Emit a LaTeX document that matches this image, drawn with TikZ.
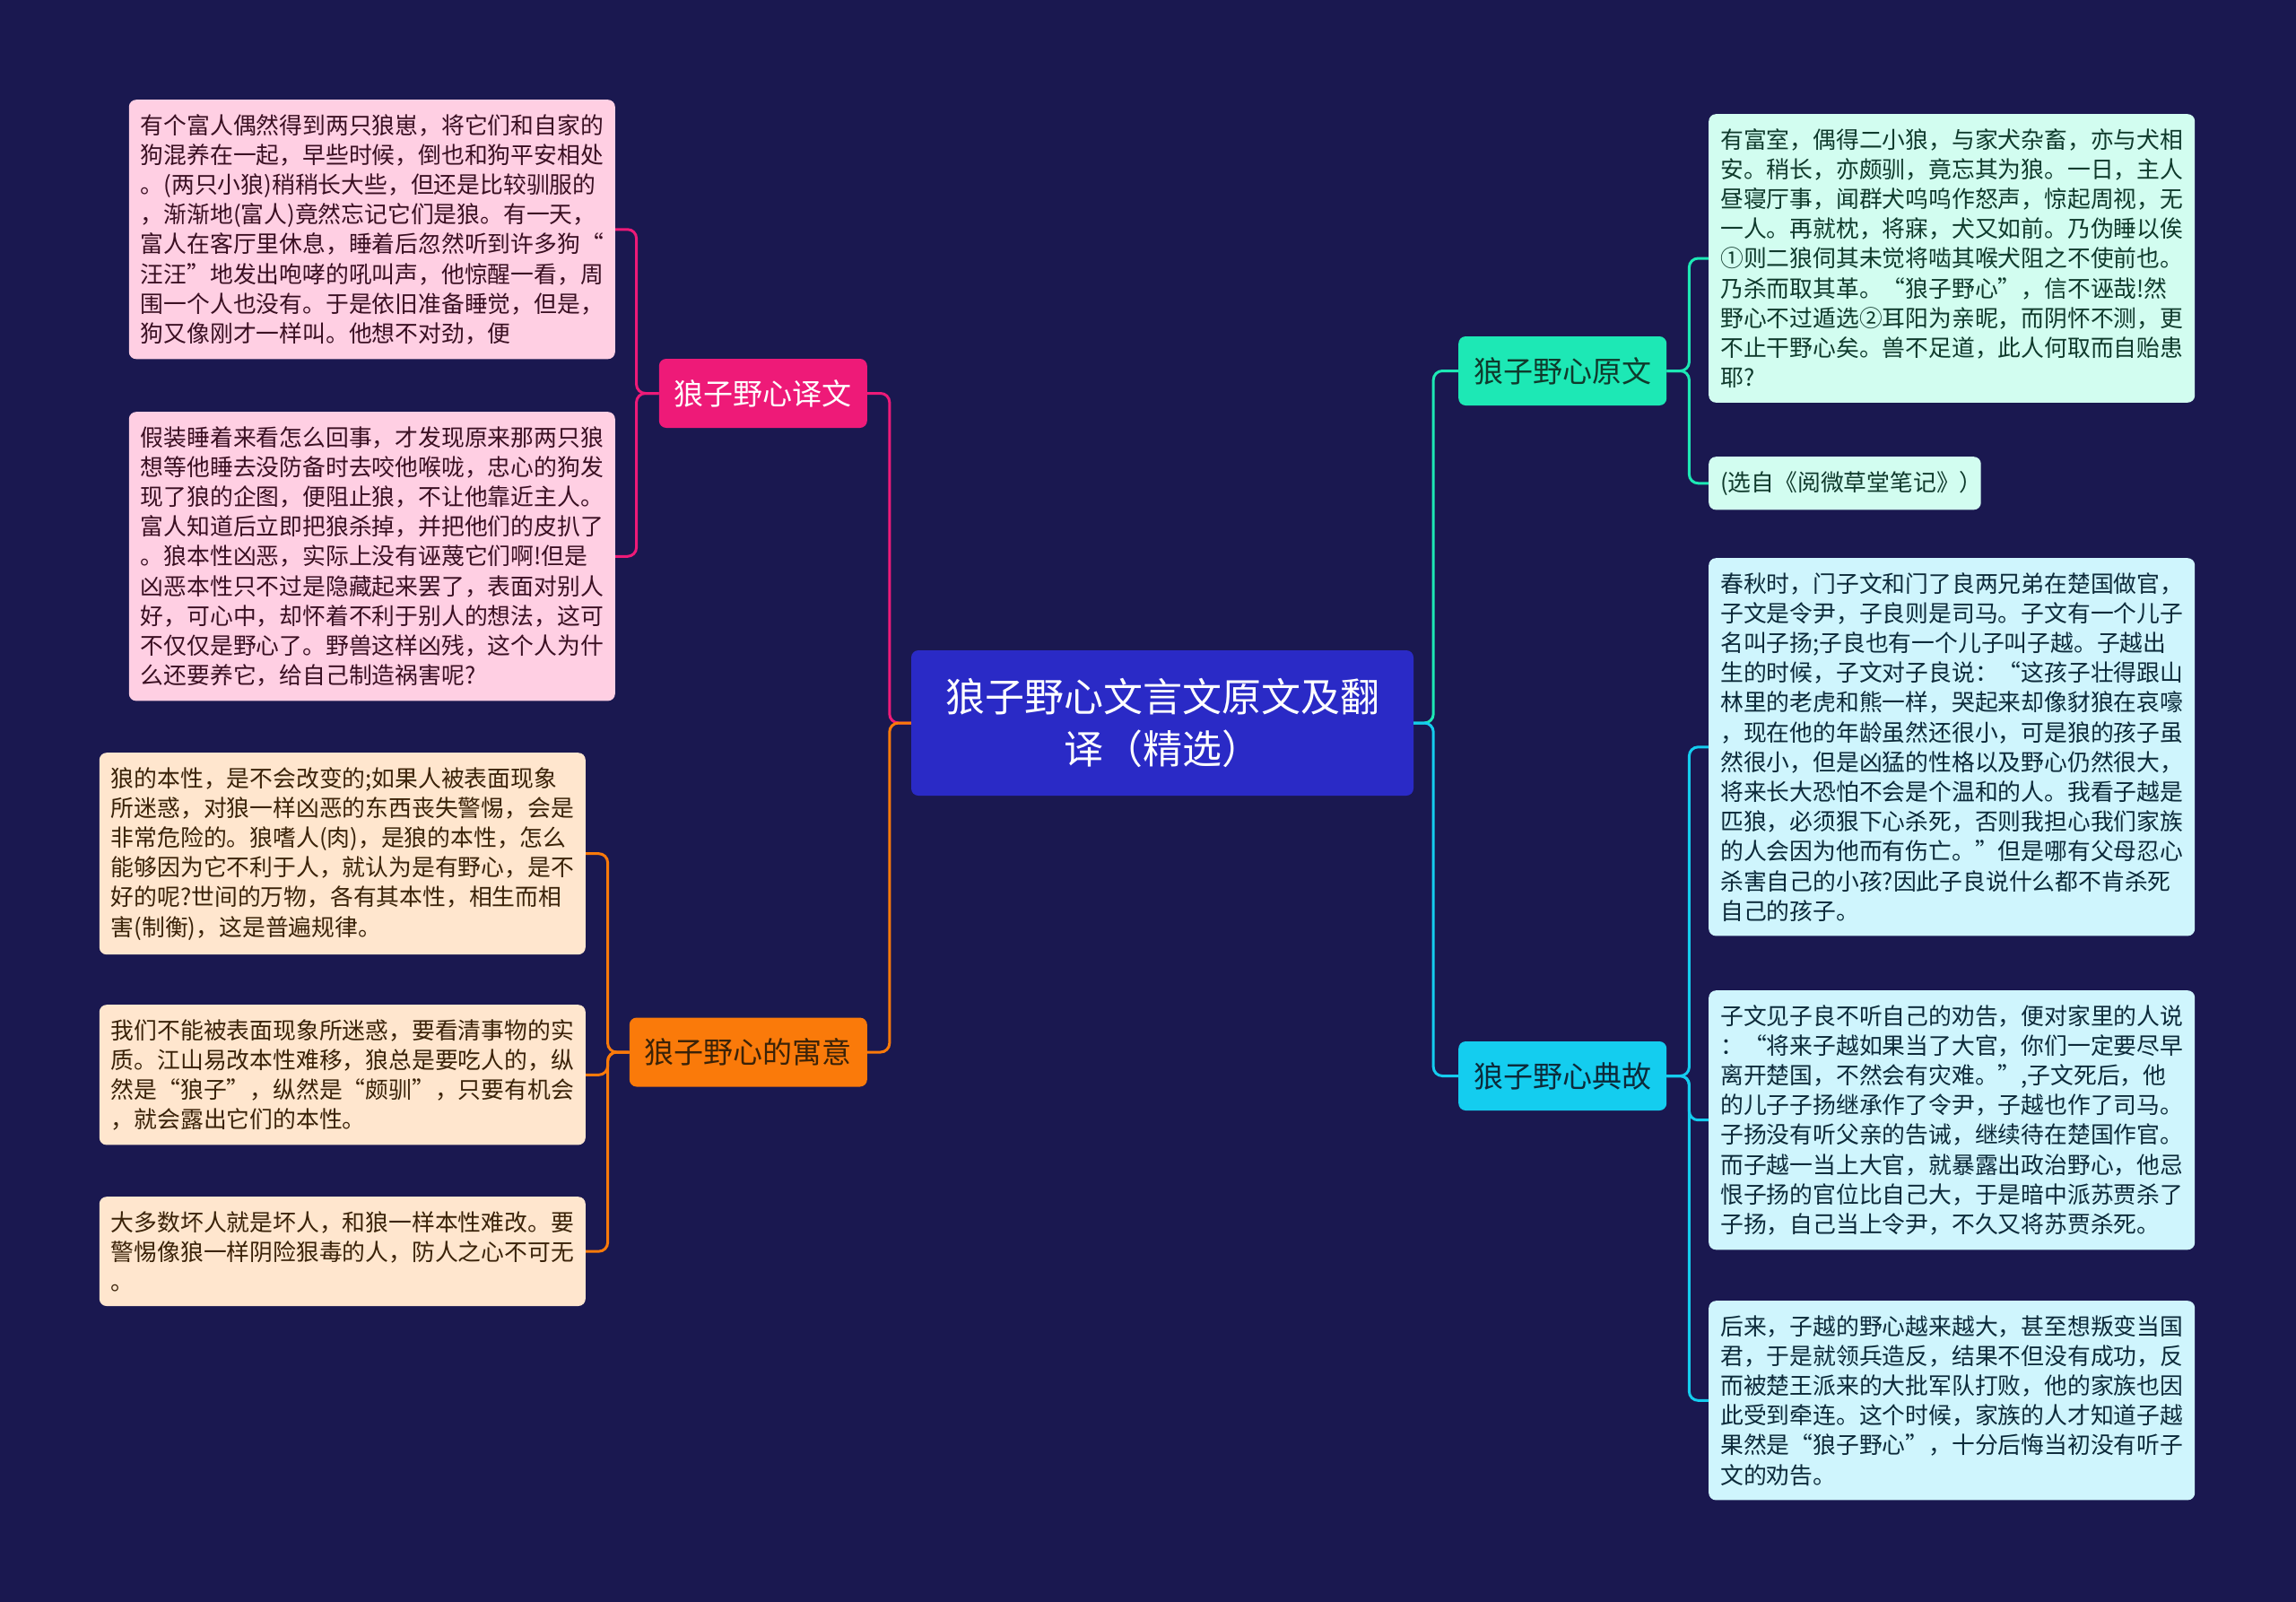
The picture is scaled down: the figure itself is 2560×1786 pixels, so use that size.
\documentclass[tikz,border=0pt]{standalone}
\usepackage{fontspec}
\setmainfont{Noto Sans CJK SC}
\usepackage{xcolor}
\definecolor{bgnavy}{HTML}{1A1850}
\definecolor{rootblue}{HTML}{2A2AC6}
\definecolor{pinkmain}{HTML}{EE1A78}
\definecolor{orangemain}{HTML}{FA7A0A}
\definecolor{tealmain}{HTML}{1DE8B5}
\definecolor{cyanmain}{HTML}{14CDEF}
\definecolor{pinkleaf}{HTML}{FFCFE3}
\definecolor{orangeleaf}{HTML}{FFE6CE}
\definecolor{tealleaf}{HTML}{D2FDF0}
\definecolor{cyanleaf}{HTML}{CFF5FD}
\definecolor{pinkink}{HTML}{3A0F22}
\definecolor{orangeink}{HTML}{3A2208}
\definecolor{tealink}{HTML}{0F3A2C}
\definecolor{cyanink}{HTML}{0C2A3A}

\begin{document}
\begin{tikzpicture}[x=1pt,y=-1pt,
  box/.style={rounded corners=8pt,inner sep=0pt,align=center},
  branch/.style={box,minimum height=77pt,inner xsep=17pt,font=\fontsize{33}{40}\selectfont},
  leaf/.style={rounded corners=8pt,align=left,inner xsep=13pt,inner ysep=16pt,font=\fontsize{25.8}{33.2}\selectfont},
  wideleaf/.style={leaf,text width=516pt},
  link/.style={line width=3pt,rounded corners=10pt}]
\fill[bgnavy] (0,0) rectangle (2560,1786);
\useasboundingbox (0,0) rectangle (2560,1786);

\node (root) [box,fill=rootblue,text=white,minimum width=560pt,minimum height=162pt,
  font=\fontsize{44}{58.8}\selectfont] at (1296,806) {狼子野心文言文原文及翻\\译（精选）};

\node (yiwen) [branch,fill=pinkmain,text=white,anchor=east] at (967,438.5) {狼子野心译文};
\node (yuyi) [branch,fill=orangemain,text=orangeink,anchor=east] at (967,1173) {狼子野心的寓意};
\node (yuanwen) [branch,fill=tealmain,text=tealink,anchor=west] at (1626,413.5) {狼子野心原文};
\node (diangu) [branch,fill=cyanmain,text=cyanink,anchor=west] at (1626,1199.5) {狼子野心典故};

\node (yw1) [wideleaf,fill=pinkleaf,text=pinkink,anchor=north east] at (686,111) {有个富人偶然得到两只狼崽，将它们和自家的\\
狗混养在一起，早些时候，倒也和狗平安相处\\
。(两只小狼)稍稍长大些，但还是比较驯服的\\
，渐渐地(富人)竟然忘记它们是狼。有一天，\\
富人在客厅里休息，睡着后忽然听到许多狗“\\
汪汪”地发出咆哮的吼叫声，他惊醒一看，周\\
围一个人也没有。于是依旧准备睡觉，但是，\\
狗又像刚才一样叫。他想不对劲，便};
\node (yw2) [wideleaf,fill=pinkleaf,text=pinkink,anchor=north east] at (686,459) {假装睡着来看怎么回事，才发现原来那两只狼\\
想等他睡去没防备时去咬他喉咙，忠心的狗发\\
现了狼的企图，便阻止狼，不让他靠近主人。\\
富人知道后立即把狼杀掉，并把他们的皮扒了\\
。狼本性凶恶，实际上没有诬蔑它们啊!但是\\
凶恶本性只不过是隐藏起来罢了，表面对别人\\
好，可心中，却怀着不利于别人的想法，这可\\
不仅仅是野心了。野兽这样凶残，这个人为什\\
么还要养它，给自己制造祸害呢?};

\node (yy1) [wideleaf,fill=orangeleaf,text=orangeink,anchor=north east] at (653,839) {狼的本性，是不会改变的;如果人被表面现象\\
所迷惑，对狼一样凶恶的东西丧失警惕，会是\\
非常危险的。狼嗜人(肉)，是狼的本性，怎么\\
能够因为它不利于人，就认为是有野心，是不\\
好的呢?世间的万物，各有其本性，相生而相\\
害(制衡)，这是普遍规律。};
\node (yy2) [wideleaf,fill=orangeleaf,text=orangeink,anchor=north east] at (653,1120) {我们不能被表面现象所迷惑，要看清事物的实\\
质。江山易改本性难移，狼总是要吃人的，纵\\
然是“狼子”，纵然是“颇驯”，只要有机会\\
，就会露出它们的本性。};
\node (yy3) [wideleaf,fill=orangeleaf,text=orangeink,anchor=north east] at (653,1334) {大多数坏人就是坏人，和狼一样本性难改。要\\
警惕像狼一样阴险狠毒的人，防人之心不可无\\
。};

\node (yl1) [wideleaf,fill=tealleaf,text=tealink,anchor=north west] at (1905,127) {有富室，偶得二小狼，与家犬杂畜，亦与犬相\\
安。稍长，亦颇驯，竟忘其为狼。一日，主人\\
昼寝厅事，闻群犬呜呜作怒声，惊起周视，无\\
一人。再就枕，将寐，犬又如前。乃伪睡以俟\\
①则二狼伺其未觉将啮其喉犬阻之不使前也。\\
乃杀而取其革。“狼子野心”，信不诬哉!然\\
野心不过遁选②耳阳为亲昵，而阴怀不测，更\\
不止干野心矣。兽不足道，此人何取而自贻患\\
耶?};
\node (yl2) [leaf,fill=tealleaf,text=tealink,anchor=north west] at (1905,509) {(选自《阅微草堂笔记》）\kern-15pt};

\node (dg1) [wideleaf,fill=cyanleaf,text=cyanink,anchor=north west] at (1905,622) {春秋时，门子文和门了良两兄弟在楚国做官，\\
子文是令尹，子良则是司马。子文有一个儿子\\
名叫子扬;子良也有一个儿子叫子越。子越出\\
生的时候，子文对子良说：“这孩子壮得跟山\\
林里的老虎和熊一样，哭起来却像豺狼在哀嚎\\
，现在他的年龄虽然还很小，可是狼的孩子虽\\
然很小，但是凶猛的性格以及野心仍然很大，\\
将来长大恐怕不会是个温和的人。我看子越是\\
匹狼，必须狠下心杀死，否则我担心我们家族\\
的人会因为他而有伤亡。”但是哪有父母忍心\\
杀害自己的小孩?因此子良说什么都不肯杀死\\
自己的孩子。};
\node (dg2) [wideleaf,fill=cyanleaf,text=cyanink,anchor=north west] at (1905,1104) {子文见子良不听自己的劝告，便对家里的人说\\
：“将来子越如果当了大官，你们一定要尽早\\
离开楚国，不然会有灾难。”,子文死后，他\\
的儿子子扬继承作了令尹，子越也作了司马。\\
子扬没有听父亲的告诫，继续待在楚国作官。\\
而子越一当上大官，就暴露出政治野心，他忌\\
恨子扬的官位比自己大，于是暗中派苏贾杀了\\
子扬，自己当上令尹，不久又将苏贾杀死。};
\node (dg3) [wideleaf,fill=cyanleaf,text=cyanink,anchor=north west] at (1905,1450) {后来，子越的野心越来越大，甚至想叛变当国\\
君，于是就领兵造反，结果不但没有成功，反\\
而被楚王派来的大批军队打败，他的家族也因\\
此受到牵连。这个时候，家族的人才知道子越\\
果然是“狼子野心”，十分后悔当初没有听子\\
文的劝告。};

\draw[link,pinkmain] (root.west) -- ++(-24,0) |- (yiwen.east);
\draw[link,orangemain] (root.west) -- ++(-24,0) |- (yuyi.east);
\draw[link,tealmain] (root.east) -- ++(22,0) |- (yuanwen.west);
\draw[link,cyanmain] (root.east) -- ++(22,0) |- (diangu.west);
\foreach \c in {yw1,yw2} \draw[link,pinkmain] (yiwen.west) -- ++(-25,0) |- (\c.east);
\foreach \c in {yy1,yy2,yy3} \draw[link,orangemain] (yuyi.west) -- ++(-24,0) |- (\c.east);
\foreach \c in {yl1,yl2} \draw[link,tealmain] (yuanwen.east) -- ++(25,0) |- (\c.west);
\foreach \c in {dg1,dg2,dg3} \draw[link,cyanmain] (diangu.east) -- ++(25,0) |- (\c.west);
\end{tikzpicture}
\end{document}
